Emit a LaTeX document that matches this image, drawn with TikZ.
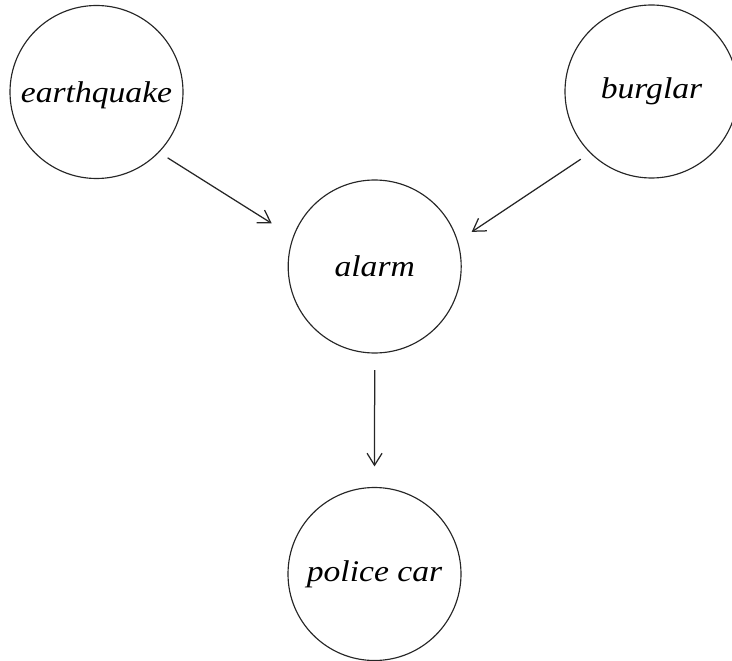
\documentclass[tikz,border=0pt]{standalone}
\usepackage{fontspec}
\setmainfont{Liberation Serif}[ItalicFeatures={FakeStretch=1.12}]
\usetikzlibrary{arrows.meta}
\begin{document}
\begin{tikzpicture}[x=1pt,y=-1pt,
  var/.style={circle, draw=black!85, line width=1.15pt, minimum size=173pt,
    inner sep=0pt, font=\itshape\fontsize{30}{36}\selectfont},
  link/.style={draw=black!85, line width=1.25pt,
    -{Straight Barb[length=12pt,width=15pt,line width=1.25pt]}}]
\useasboundingbox (0,0) rectangle (732,661);
\clip (0,0) rectangle (732,661);
% variables of the network
\node[var, text depth=0pt] (eq) at (96.5,92) {earthquake};
\node[var] (bur)    at (651.5,91.5) {burglar};
\node[var] (alarm)  at (374.7,266.5){alarm};
\node[var] (police) at (374.5,574)  {police car};
% dependencies
\draw[link, shorten <=10pt, shorten >=25pt] (eq.-44) -- (alarm.160);
\draw[link, shorten <=11pt, shorten >=16.5pt] (bur.-135.4) -- (alarm.17.7);
\draw[link, shorten <=16.5pt, shorten >=20.5pt] (alarm.south) -- (police.north);
\end{tikzpicture}
\end{document}
